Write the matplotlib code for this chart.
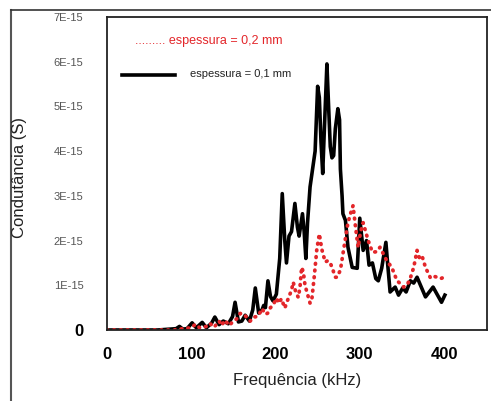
import matplotlib
matplotlib.use("Agg")
import matplotlib.pyplot as plt
from matplotlib.lines import Line2D

# espessura = 0,1 mm (black)
freq_01 = [0, 20, 40, 60, 75, 82, 86, 90, 95, 101, 106, 113, 118, 124, 128, 133,
           138, 144, 149, 152, 156, 160, 164, 169, 173, 176, 180, 184, 186, 188,
           191, 194, 197, 201, 205, 208, 211, 213, 216, 219, 223, 226, 228, 232,
           234, 236, 238, 241, 244, 247, 250, 252, 254, 256, 258, 261, 263, 265,
           267, 269, 271, 274, 276, 277, 279, 280, 283, 286, 291, 297, 300, 304,
           308, 311, 315, 319, 322, 326, 331, 333, 336, 342, 346, 351, 355, 360,
           364, 368, 378, 387, 397, 401]
cond_01 = [0, 0, 0, 0, 0.02, 0.03, 0.08, 0.02, 0.03, 0.16, 0.05, 0.17, 0.05, 0.15,
           0.29, 0.12, 0.2, 0.14, 0.3, 0.62, 0.18, 0.2, 0.33, 0.2, 0.45, 0.94,
           0.38, 0.45, 0.55, 0.5, 1.1, 0.75, 0.65, 0.8, 1.6, 3.05, 2.0, 1.5, 2.1,
           2.2, 2.83, 2.3, 2.1, 2.6, 2.2, 1.6, 2.4, 3.2, 3.6, 4.0, 5.45, 5.2, 4.2,
           3.5, 4.5, 5.95, 5.0, 4.1, 3.85, 3.9, 4.5, 4.95, 4.7, 3.6, 3.0, 2.6,
           2.45, 1.85, 1.4, 1.38, 2.5, 1.78, 2.0, 1.45, 1.5, 1.15, 1.1, 1.38, 1.96,
           1.5, 0.85, 0.96, 0.78, 0.94, 0.85, 1.1, 1.05, 1.18, 0.74, 0.96, 0.62,
           0.78]

# espessura = 0,2 mm (red dotted)
freq_02 = [0, 40, 80, 90, 100, 105, 110, 118, 122, 127, 133, 136, 140, 145, 150,
           154, 158, 163, 167, 170, 174, 178, 180, 184, 188, 191, 194, 197, 201,
           204, 207, 211, 215, 219, 221, 224, 227, 229, 231, 233, 235, 238, 241,
           243, 246, 249, 252, 255, 259, 262, 265, 268, 271, 273, 277, 280, 286,
           289, 292, 295, 298, 301, 304, 307, 310, 315, 320, 324, 328, 332, 338,
           344, 352, 356, 360, 364, 368, 371, 374, 378, 384, 388, 392, 396, 400]
cond_02 = [0, 0, 0, 0.03, 0.05, 0.13, 0.05, 0.08, 0.15, 0.06, 0.2, 0.1, 0.22, 0.1,
           0.2, 0.25, 0.37, 0.35, 0.25, 0.2, 0.29, 0.3, 0.33, 0.48, 0.35, 0.38,
           0.5, 0.55, 0.71, 0.6, 0.7, 0.49, 0.7, 0.89, 1.07, 0.85, 0.73, 0.95,
           1.4, 1.3, 1.0, 0.8, 0.6, 0.67, 1.2, 1.8, 2.15, 1.8, 1.52, 1.55, 1.5,
           1.35, 1.18, 1.18, 1.34, 1.7, 2.4, 2.6, 2.78, 2.3, 1.85, 2.2, 2.4, 2.2,
           2.0, 1.74, 1.75, 1.85, 1.7, 1.55, 1.4, 1.11, 0.96, 1.0, 1.16, 1.4,
           1.78, 1.6, 1.65, 1.4, 1.16, 1.2, 1.18, 1.15, 1.18]

x_ticks = [0, 100, 200, 300, 400]
y_ticks = [0, 1, 2, 3, 4, 5, 6, 7]
y_labels = ["0", "1E-15", "2E-15", "3E-15", "4E-15", "5E-15", "6E-15", "7E-15"]

plt.rcParams["font.family"] = ["Liberation Sans", "DejaVu Sans"]

fig = plt.figure(figsize=(4.91, 4.01), dpi=100)
ax = fig.add_axes([107 / 491, 71 / 401, 380 / 491, 313 / 401])

ax.plot(freq_01, cond_01, color="black", lw=2.6, solid_joinstyle="round")
ax.plot(freq_02, cond_02, color="#e3262a", lw=2.7,
        linestyle=(0, (0.2, 1.6)), dash_capstyle="round")

ax.set_xlim(0, 451)
ax.set_ylim(0, 7)
ax.set_xticks(x_ticks)
ax.set_xticklabels([str(t) for t in x_ticks], fontsize=12, fontweight="bold")
ax.set_yticks(y_ticks)
ax.set_yticklabels(y_labels, fontsize=8, color="#555555")
ax.get_yticklabels()[0].set_fontsize(12)
ax.get_yticklabels()[0].set_fontweight("bold")
ax.get_yticklabels()[0].set_color("black")
ax.tick_params(length=0, pad=12)
ax.tick_params(axis="y", pad=17)
for s in ax.spines.values():
    s.set_linewidth(1.3)
    s.set_color("#222222")

fig.text(297 / 491, 1 - 381 / 401, "Frequência (kHz)", fontsize=12,
         ha="center", va="center", color="#222222")
fig.text(20 / 491, 1 - 178 / 401, "Condutância (S)", fontsize=12,
         ha="center", va="center", rotation=90, color="#222222")

# legend drawn as text like the original
fig.text(135 / 491, 1 - 41 / 401, "......... espessura = 0,2 mm", fontsize=9,
         color="#e3262a", va="center")
fig.add_artist(Line2D([122 / 491, 175 / 491], [1 - 75 / 401, 1 - 75 / 401],
                      color="black", lw=2.6))
fig.text(190 / 491, 1 - 74 / 401, "espessura = 0,1 mm", fontsize=8,
         color="#222222", va="center")

# outer frame lines of the screenshot
fig.add_artist(Line2D([11 / 491, 11 / 491], [0, 1 - 10 / 401], color="#555555", lw=1.5))
fig.add_artist(Line2D([11 / 491, 1], [1 - 10 / 401, 1 - 10 / 401], color="#333333", lw=1.2))

fig.savefig("out.png", dpi=100)
